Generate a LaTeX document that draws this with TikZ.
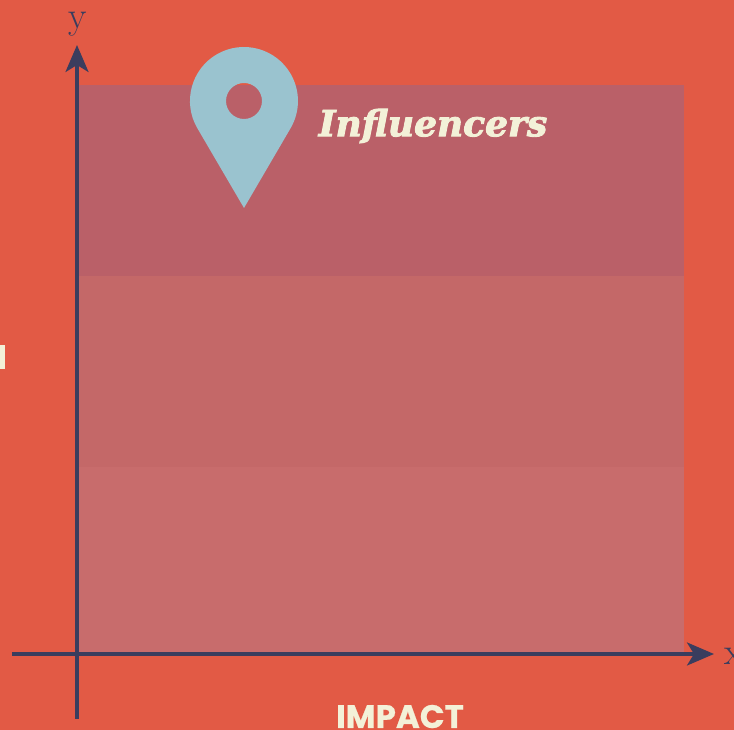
\documentclass[tikz,border=0pt]{standalone}
\usepackage{fontspec}
\usetikzlibrary{arrows.meta}
\newfontfamily\slabfont{DejaVu Serif}[BoldItalicFeatures={FakeBold=2.5}]
\newfontfamily\capsfont{Poppins}[BoldFeatures={FakeBold=0.6}]
\definecolor{bgred}{HTML}{E25A45}
\definecolor{bandtop}{HTML}{BA6068}
\definecolor{bandmid}{HTML}{C46868}
\definecolor{bandlow}{HTML}{C86C6C}
\definecolor{axisblue}{HTML}{3A3D5E}
\definecolor{pinblue}{HTML}{9AC3CF}
\definecolor{cream}{HTML}{F3F1D8}
\tikzset{
	axisline/.style={line width=3.2pt, draw=axisblue, -{Stealth[length=27pt,width=23pt,inset=7pt]}},
	axislabel/.style={text=axisblue, inner sep=0pt, font=\fontsize{38}{38}\selectfont},
}
\begin{document}
\begin{tikzpicture}[x=1pt,y=1pt]
		\useasboundingbox (0,0) rectangle (734,730);
		\fill[bgred] (0,0) rectangle (734,730);
		\fill[bandlow] (78,76) rectangle (684,263);
		\fill[bandmid] (78,263) rectangle (684,454);
		\fill[bandtop] (78,454) rectangle (684,645);
		\fill[cream] (0,361) rectangle (5,385);
		% axes
		\coordinate (ybottom) at (77,11);
		\coordinate (ytop) at (77,685);
		\coordinate (xleft) at (12,76);
		\coordinate (xright) at (714,76);
		\draw[axisline] (ybottom) -- (ytop);
		\draw[axisline] (xleft) -- (xright);
		\node (ylabel) at (78,706)[axislabel] {y};
		\node (xlabel) at (734,74)[axislabel] {x};
		% pin
		\fill[pinblue, even odd rule] (244,522) -- (197.2,602) arc (210:-30:54) -- cycle
			(244,629) circle (18);
		\node (influencers) at (433,604)[text=cream, inner sep=0pt, font=\slabfont\bfseries\itshape\fontsize{36}{36}\selectfont] {Influencers};
		\node (impact) at (400,2)[anchor=base, text=cream, inner sep=0pt, font=\capsfont\bfseries\fontsize{32.5}{33}\selectfont] {IMPACT};
	\end{tikzpicture}
\end{document}
